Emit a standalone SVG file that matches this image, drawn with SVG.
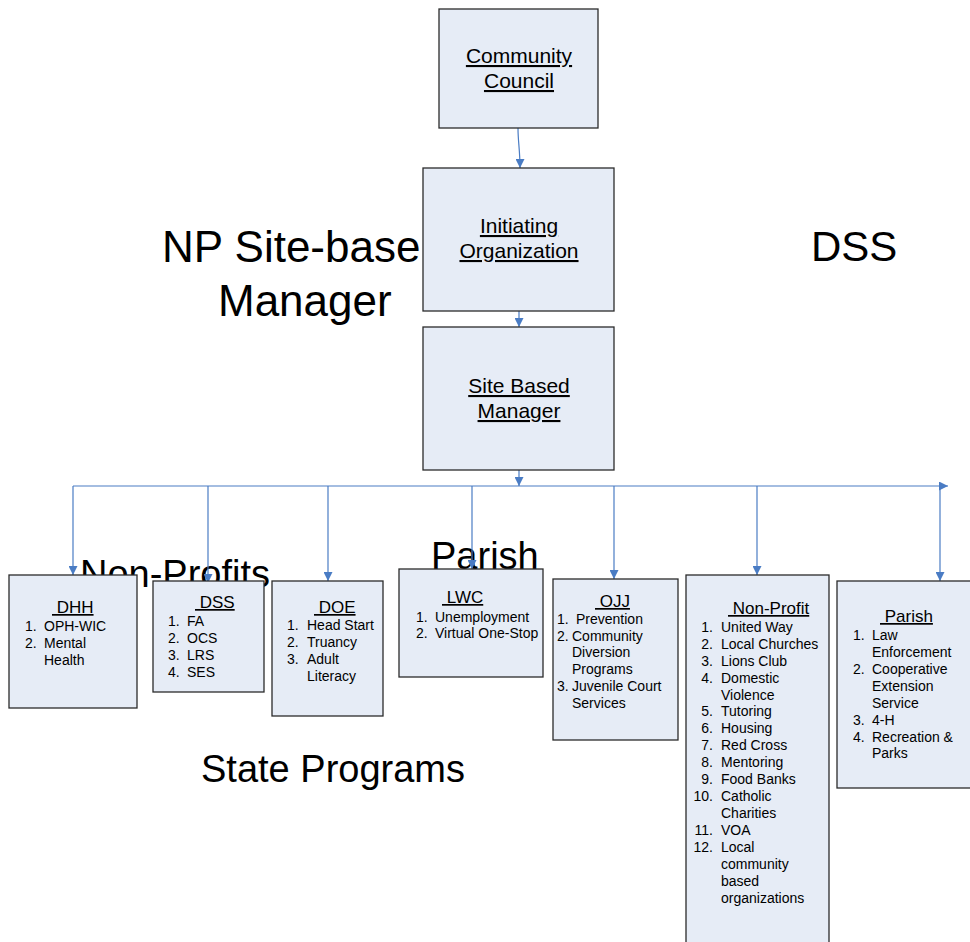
<svg xmlns="http://www.w3.org/2000/svg" width="970" height="942" viewBox="0 0 970 942">
<style>
.box{fill:#E6ECF6;stroke:#2b2b2b;stroke-width:1.3}
.big{font-family:"Liberation Sans",Arial,sans-serif;fill:#000}
.t{font-family:"Liberation Sans",Arial,sans-serif;font-size:21px;fill:#000;text-anchor:middle;text-decoration:underline}
.h{font-family:"Liberation Sans",Arial,sans-serif;font-size:17px;fill:#000;text-decoration:underline}
.i{font-family:"Liberation Sans",Arial,sans-serif;font-size:14px;fill:#000}
.n{text-anchor:end}
.c{fill:none;stroke:#4A7CC4;stroke-width:1.2}
</style>
<defs>
<marker id="ah" viewBox="0 0 10 10" refX="10" refY="5" markerWidth="9" markerHeight="9" markerUnits="userSpaceOnUse" orient="auto">
<path d="M0,0 L10,5 L0,10 Z" fill="#4A7CC4"/>
</marker>
</defs>
<g id="labels">
<text class="big" x="162" y="262" font-size="44">NP Site-base</text>
<text class="big" x="218" y="316" font-size="44">Manager</text>
<text class="big" x="811" y="261" font-size="42">DSS</text>
<text class="big" x="431" y="569" font-size="38">Parish</text>
<text class="big" x="80" y="587" font-size="38">Non-Profits</text>
<text class="big" x="201" y="782" font-size="38">State Programs</text>
</g>
<g id="connectors">
<path class="c" d="M518,128 C518,142 520,150 520,168" marker-end="url(#ah)"/>
<path class="c" d="M519,311 L519,327" marker-end="url(#ah)"/>
<path class="c" d="M519,470 L519,486" marker-end="url(#ah)"/>
<path class="c" d="M73,486 L948,486" marker-end="url(#ah)"/>
<path class="c" d="M73,486 L73,575" marker-end="url(#ah)"/>
<path class="c" d="M208,486 L208,583" marker-end="url(#ah)"/>
<path class="c" d="M328,486 L328,581" marker-end="url(#ah)"/>
<path class="c" d="M472,486 L472,569" marker-end="url(#ah)"/>
<path class="c" d="M614,486 L614,579" marker-end="url(#ah)"/>
<path class="c" d="M757,486 L757,575" marker-end="url(#ah)"/>
<path class="c" d="M940,486 L940,581" marker-end="url(#ah)"/>
</g>
<g id="community-council">
<rect class="box" x="439" y="9" width="159" height="119"/>
<text class="t" x="519" y="63">Community</text>
<text class="t" x="519" y="88">Council</text>
</g>
<g id="initiating-organization">
<rect class="box" x="423" y="168" width="191" height="143"/>
<text class="t" x="519" y="233">Initiating</text>
<text class="t" x="519" y="258">Organization</text>
</g>
<g id="site-based-manager">
<rect class="box" x="423" y="327" width="191" height="143"/>
<text class="t" x="519" y="393">Site Based</text>
<text class="t" x="519" y="418">Manager</text>
</g>
<g id="dhh">
<rect class="box" x="9" y="575" width="128" height="133"/>
<text class="h" x="52" y="613" xml:space="preserve"> DHH</text>
<text class="i" x="25" y="631">1.</text><text class="i" x="44" y="631">OPH-WIC</text>
<text class="i" x="25" y="648">2.</text><text class="i" x="44" y="648">Mental</text>
<text class="i" x="44" y="665">Health</text>
</g>
<g id="dss">
<rect class="box" x="153" y="581" width="111" height="111"/>
<text class="h" x="195" y="608" xml:space="preserve"> DSS</text>
<text class="i" x="168" y="626">1.</text><text class="i" x="187" y="626">FA</text>
<text class="i" x="168" y="643">2.</text><text class="i" x="187" y="643">OCS</text>
<text class="i" x="168" y="660">3.</text><text class="i" x="187" y="660">LRS</text>
<text class="i" x="168" y="677">4.</text><text class="i" x="187" y="677">SES</text>
</g>
<g id="doe">
<rect class="box" x="272" y="581" width="111" height="135"/>
<text class="h" x="314" y="613" xml:space="preserve"> DOE</text>
<text class="i" x="287" y="630">1.</text><text class="i" x="307" y="630">Head Start</text>
<text class="i" x="287" y="647">2.</text><text class="i" x="307" y="647">Truancy</text>
<text class="i" x="287" y="664">3.</text><text class="i" x="307" y="664">Adult</text>
<text class="i" x="307" y="681">Literacy</text>
</g>
<g id="lwc">
<rect class="box" x="399" y="569" width="144" height="108"/>
<text class="h" x="442" y="603" xml:space="preserve"> LWC</text>
<text class="i" x="416" y="622">1.</text><text class="i" x="435" y="622">Unemployment</text>
<text class="i" x="416" y="638">2.</text><text class="i" x="435" y="638">Virtual One-Stop</text>
</g>
<g id="ojj">
<rect class="box" x="553" y="579" width="125" height="161"/>
<text class="h" x="595" y="607" xml:space="preserve"> OJJ</text>
<text class="i" x="557" y="624">1.</text><text class="i" x="576" y="624">Prevention</text>
<text class="i" x="557" y="641">2.</text><text class="i" x="572" y="641">Community</text>
<text class="i" x="572" y="657">Diversion</text>
<text class="i" x="572" y="674">Programs</text>
<text class="i" x="557" y="691">3.</text><text class="i" x="572" y="691">Juvenile Court</text>
<text class="i" x="572" y="708">Services</text>
</g>
<g id="non-profit">
<rect class="box" x="686" y="575" width="143" height="375"/>
<text class="h" x="728" y="614" xml:space="preserve"> Non-Profit</text>
<text class="i n" x="713" y="632">1.</text><text class="i" x="721" y="632">United Way</text>
<text class="i n" x="713" y="649">2.</text><text class="i" x="721" y="649">Local Churches</text>
<text class="i n" x="713" y="666">3.</text><text class="i" x="721" y="666">Lions Club</text>
<text class="i n" x="713" y="683">4.</text><text class="i" x="721" y="683">Domestic</text>
<text class="i" x="721" y="700">Violence</text>
<text class="i n" x="713" y="716">5.</text><text class="i" x="721" y="716">Tutoring</text>
<text class="i n" x="713" y="733">6.</text><text class="i" x="721" y="733">Housing</text>
<text class="i n" x="713" y="750">7.</text><text class="i" x="721" y="750">Red Cross</text>
<text class="i n" x="713" y="767">8.</text><text class="i" x="721" y="767">Mentoring</text>
<text class="i n" x="713" y="784">9.</text><text class="i" x="721" y="784">Food Banks</text>
<text class="i n" x="713" y="801">10.</text><text class="i" x="721" y="801">Catholic</text>
<text class="i" x="721" y="818">Charities</text>
<text class="i n" x="713" y="835">11.</text><text class="i" x="721" y="835">VOA</text>
<text class="i n" x="713" y="852">12.</text><text class="i" x="721" y="852">Local</text>
<text class="i" x="721" y="869">community</text>
<text class="i" x="721" y="886">based</text>
<text class="i" x="721" y="903">organizations</text>
</g>
<g id="parish">
<rect class="box" x="837" y="581" width="140" height="207"/>
<text class="h" x="880" y="622" xml:space="preserve"> Parish</text>
<text class="i" x="853" y="640">1.</text><text class="i" x="872" y="640">Law</text>
<text class="i" x="872" y="657">Enforcement</text>
<text class="i" x="853" y="674">2.</text><text class="i" x="872" y="674">Cooperative</text>
<text class="i" x="872" y="691">Extension</text>
<text class="i" x="872" y="708">Service</text>
<text class="i" x="853" y="725">3.</text><text class="i" x="872" y="725">4-H</text>
<text class="i" x="853" y="742">4.</text><text class="i" x="872" y="742">Recreation &amp;</text>
<text class="i" x="872" y="758">Parks</text>
</g>
</svg>
